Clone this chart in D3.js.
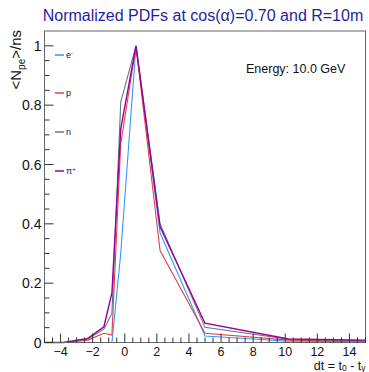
<!DOCTYPE html>
<html>
<head>
<meta charset="utf-8">
<script src="https://cdn.jsdelivr.net/npm/d3@7"></script>
<style>
  body { margin: 0; background: #fff; }
  svg { display: block; font-family: "Liberation Sans", Arial, sans-serif; }
</style>
</head>
<body>
<svg width="369" height="372"></svg>
<script>
// time points (ns) and normalized pdf values per particle
const dtPoints = [-5, -3.8, -2.3, -1.3, -0.8, -0.25, 0.7, 2.2, 5, 10.2, 15];
const electron = [0, 0, 0, 0, 0, 0.30, 1.0, 0.37, 0.022, 0.004, 0.003];
const proton   = [0, 0, 0.008, 0.031, 0.025, 0.67, 1.0, 0.31, 0.031, 0.008, 0.004];
const neutron  = [0, 0, 0.012, 0.045, 0.098, 0.81, 1.0, 0.40, 0.051, 0.011, 0.006];
const pion     = [0, 0, 0.014, 0.053, 0.167, 0.72, 1.0, 0.39, 0.065, 0.012, 0.008];

const seriesNames = ["e", "p", "n", "π"];
const seriesSup = ["-", "", "", "+"];
const seriesColors = ["#3399ff", "#dd4444", "#66777f", "#990099"];
const seriesValues = [electron, proton, neutron, pion];

const xTicks = [-4, -2, 0, 2, 4, 6, 8, 10, 12, 14];
const yTicks = [0, 0.2, 0.4, 0.6, 0.8, 1];

const svg = d3.select("svg");
const padL = 44.5, padR = 365.5, padT = 31, padB = 342.5;

const x = d3.scaleLinear().domain([-5, 15]).range([padL, padR]);
const y = d3.scaleLinear().domain([0, 1.05]).range([padB, padT]);

// title
svg.append("text")
    .attr("x", 203).attr("y", 21)
    .attr("text-anchor", "middle")
    .attr("font-size", 16)
    .attr("fill", "#1f1f9e")
    .text("Normalized PDFs at cos(α)=0.70 and R=10m");

// curves
const line = d3.line()
    .x(d => x(d[0]))
    .y(d => y(d[1]));

seriesValues.forEach((vals, i) => {
    svg.append("path")
        .datum(dtPoints.map((t, k) => [t, vals[k]]))
        .attr("fill", "none")
        .attr("stroke", seriesColors[i])
        .attr("stroke-width", i == 3 ? 1.4 : 1.1)
        .attr("d", line);
});

// frame
svg.append("rect")
    .attr("x", padL).attr("y", padT)
    .attr("width", padR - padL).attr("height", padB - padT)
    .attr("fill", "none")
    .attr("stroke", "#666")
    .attr("stroke-width", 1);

// x axis: ticks inside, pointing up
const xMinor = d3.range(-5, 15.01, 0.5);
svg.append("g").selectAll("line")
    .data(xMinor)
    .enter().append("line")
    .attr("x1", d => x(d)).attr("x2", d => x(d))
    .attr("y1", padB)
    .attr("y2", d => Math.abs(d % 2) < 1e-9 ? padB - 9 : padB - 5)
    .attr("stroke", "#333");

svg.append("g").selectAll("text")
    .data(xTicks)
    .enter().append("text")
    .attr("x", d => x(d)).attr("y", padB + 13)
    .attr("text-anchor", "middle")
    .attr("font-size", 12.5)
    .attr("fill", "#111")
    .text(d => d < 0 ? "\u2212" + Math.abs(d) : d);

// y axis: ticks inside, pointing right
const yMinor = d3.range(0, 1.0001, 0.05);
svg.append("g").selectAll("line")
    .data(yMinor)
    .enter().append("line")
    .attr("y1", d => y(d)).attr("y2", d => y(d))
    .attr("x1", padL)
    .attr("x2", d => Math.round(d * 100) % 20 == 0 ? padL + 9 : padL + 5)
    .attr("stroke", "#333");

svg.append("g").selectAll("text")
    .data(yTicks)
    .enter().append("text")
    .attr("x", padL - 3).attr("y", d => y(d) + 5)
    .attr("text-anchor", "end")
    .attr("font-size", 14)
    .attr("fill", "#111")
    .text(d => d);

// axis titles
const yTitle = svg.append("text")
    .attr("transform", "translate(21,30) rotate(-90)")
    .attr("text-anchor", "end")
    .attr("font-size", 15)
    .attr("fill", "#111");
yTitle.append("tspan").text("<N");
yTitle.append("tspan").attr("font-size", 10).attr("dy", 4).text("pe");
yTitle.append("tspan").attr("dy", -4).text(">/ns");

const xTitle = svg.append("text")
    .attr("x", padR).attr("y", 369.5)
    .attr("text-anchor", "end")
    .attr("font-size", 12.5)
    .attr("fill", "#111");
xTitle.append("tspan").text("dt = t");
xTitle.append("tspan").attr("font-size", 8.5).attr("dy", 1.5).text("0");
xTitle.append("tspan").attr("dy", -1.5).text(" - t");
xTitle.append("tspan").attr("font-size", 8.5).attr("dy", 1.5).text("γ");

// energy label
svg.append("text")
    .attr("x", 246).attr("y", 73)
    .attr("font-size", 12.5)
    .attr("fill", "#111")
    .text("Energy: 10.0 GeV");

// legend
const legendY = [55, 93, 132, 171];
seriesNames.forEach((name, i) => {
    svg.append("line")
        .attr("x1", 55).attr("x2", 64)
        .attr("y1", legendY[i]).attr("y2", legendY[i])
        .attr("stroke", seriesColors[i])
        .attr("stroke-width", 1.5);
    const t = svg.append("text")
        .attr("x", 66).attr("y", legendY[i] + 3)
        .attr("font-size", 9)
        .attr("fill", "#222");
    t.append("tspan").text(name);
    if (seriesSup[i]) {
        t.append("tspan").attr("font-size", 6).attr("dy", -3).text(seriesSup[i]);
    }
});
</script>
</body>
</html>
